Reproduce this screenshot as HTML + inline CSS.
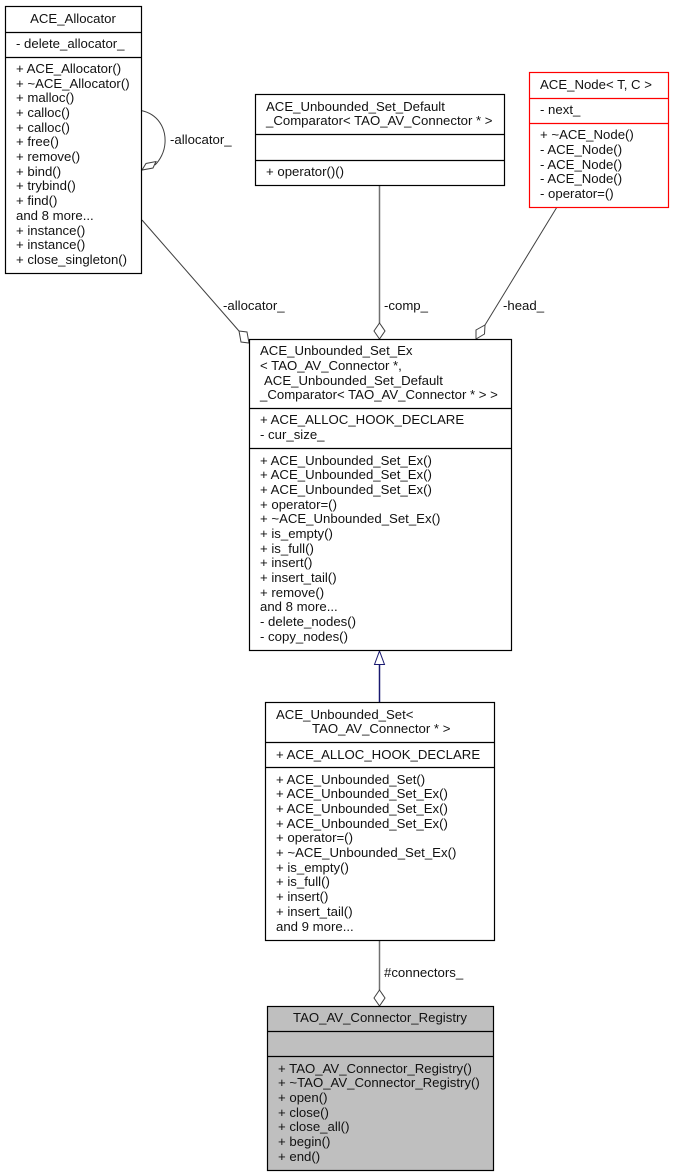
<!DOCTYPE html>
<html><head><meta charset="utf-8"><style>
html,body{margin:0;padding:0;background:#fff}
svg{display:block}
text{font-family:"Liberation Sans",sans-serif;font-size:13.2px;fill:#111}
</style></head><body>
<svg width="673" height="1176" viewBox="0 0 673 1176" xmlns="http://www.w3.org/2000/svg">
<rect width="673" height="1176" fill="#fff"/>
<!-- edges -->
<g fill="none" stroke="#404040" stroke-width="1">
<path d="M141 110.500C158 114 166 128 165 143C164.500 152 160 160 155 165"/>
<path d="M142 220L239 331"/>
<path d="M379.500 185V323" stroke-width="1.500" stroke="#707070"/>
<path d="M557 207L485 325"/>
<path d="M379.500 940V990" stroke-width="1.500" stroke="#707070"/>
<path d="M379.500 702V665" stroke="#191970" stroke-width="1.500"/>
</g>
<g fill="#fff" stroke="#404040" stroke-width="1">
<path d="M142 170L146 163.500L156 161.500L153 168L142 170Z"/>
<path d="M239 331L247 332L249 343L241 342Z"/>
<path d="M379.500 323L385 331L379.500 339L374 331Z"/>
<path d="M476 339L476 330L485 325L484.500 334Z"/>
<path d="M379.500 990L385 998L379.500 1006L374 998Z"/>
<path d="M379.500 651L384.500 664.500H374.500Z" stroke="#191970"/>
</g>
<!-- boxes -->
<g fill="#fff" stroke="#000" stroke-width="1.200">
<rect x="5.500" y="6.500" width="136" height="267"/>
<path d="M5.500 32.500H141.500M5.500 57.500H141.500"/>
<rect x="255.500" y="94.500" width="249" height="91"/>
<path d="M255.500 134.500H504.500M255.500 160.500H504.500"/>
<rect x="249.500" y="339.500" width="262" height="311"/>
<path d="M249.500 408.500H511.500M249.500 448.500H511.500"/>
<rect x="265.500" y="702.500" width="229" height="238"/>
<path d="M265.500 742.500H494.500M265.500 767.500H494.500"/>
<rect x="267.500" y="1006.500" width="226" height="164" fill="#bfbfbf"/>
<path d="M267.500 1031.500H493.500M267.500 1056.500H493.500"/>
</g>
<g fill="#fff" stroke="#ff0000" stroke-width="1.200">
<rect x="529.500" y="72.500" width="139" height="135"/>
<path d="M529.500 98.500H668.500M529.500 123.500H668.500"/>
</g>
<!-- ACE_Allocator -->
<text x="73" y="23" text-anchor="middle">ACE_Allocator</text>
<text x="16" y="48">- delete_allocator_</text>
<text x="16" y="73">+ ACE_Allocator()</text>
<text x="16" y="88">+ ~ACE_Allocator()</text>
<text x="16" y="102">+ malloc()</text>
<text x="16" y="117">+ calloc()</text>
<text x="16" y="132">+ calloc()</text>
<text x="16" y="146">+ free()</text>
<text x="16" y="161">+ remove()</text>
<text x="16" y="176">+ bind()</text>
<text x="16" y="190">+ trybind()</text>
<text x="16" y="205">+ find()</text>
<text x="16" y="220">and 8 more...</text>
<text x="16" y="235">+ instance()</text>
<text x="16" y="249">+ instance()</text>
<text x="16" y="264">+ close_singleton()</text>
<text x="170" y="144">-allocator_</text>
<text x="223" y="310">-allocator_</text>
<!-- Comparator -->
<text x="266" y="111">ACE_Unbounded_Set_Default</text>
<text x="266" y="125">_Comparator&lt; TAO_AV_Connector * &gt;</text>
<text x="266" y="176">+ operator()()</text>
<text x="384" y="310">-comp_</text>
<!-- ACE_Node -->
<text x="540" y="89">ACE_Node&lt; T, C &gt;</text>
<text x="540" y="114">- next_</text>
<text x="540" y="139">+ ~ACE_Node()</text>
<text x="540" y="154">- ACE_Node()</text>
<text x="540" y="169">- ACE_Node()</text>
<text x="540" y="183">- ACE_Node()</text>
<text x="540" y="198">- operator=()</text>
<text x="503" y="310">-head_</text>
<!-- Set_Ex -->
<text x="260" y="355">ACE_Unbounded_Set_Ex</text>
<text x="260" y="370">&lt; TAO_AV_Connector *,</text>
<text x="264" y="385">ACE_Unbounded_Set_Default</text>
<text x="260" y="399">_Comparator&lt; TAO_AV_Connector * &gt; &gt;</text>
<text x="260" y="424">+ ACE_ALLOC_HOOK_DECLARE</text>
<text x="260" y="439">- cur_size_</text>
<text x="260" y="465">+ ACE_Unbounded_Set_Ex()</text>
<text x="260" y="479">+ ACE_Unbounded_Set_Ex()</text>
<text x="260" y="494">+ ACE_Unbounded_Set_Ex()</text>
<text x="260" y="509">+ operator=()</text>
<text x="260" y="523">+ ~ACE_Unbounded_Set_Ex()</text>
<text x="260" y="538">+ is_empty()</text>
<text x="260" y="553">+ is_full()</text>
<text x="260" y="567">+ insert()</text>
<text x="260" y="582">+ insert_tail()</text>
<text x="260" y="597">+ remove()</text>
<text x="260" y="611">and 8 more...</text>
<text x="260" y="626">- delete_nodes()</text>
<text x="260" y="641">- copy_nodes()</text>
<!-- Set -->
<text x="276" y="719">ACE_Unbounded_Set&lt;</text>
<text x="312" y="733">TAO_AV_Connector * &gt;</text>
<text x="276" y="759">+ ACE_ALLOC_HOOK_DECLARE</text>
<text x="276" y="784">+ ACE_Unbounded_Set()</text>
<text x="276" y="798">+ ACE_Unbounded_Set_Ex()</text>
<text x="276" y="813">+ ACE_Unbounded_Set_Ex()</text>
<text x="276" y="828">+ ACE_Unbounded_Set_Ex()</text>
<text x="276" y="842">+ operator=()</text>
<text x="276" y="857">+ ~ACE_Unbounded_Set_Ex()</text>
<text x="276" y="872">+ is_empty()</text>
<text x="276" y="886">+ is_full()</text>
<text x="276" y="901">+ insert()</text>
<text x="276" y="916">+ insert_tail()</text>
<text x="276" y="931">and 9 more...</text>
<text x="384" y="977">#connectors_</text>
<!-- Registry -->
<text x="380" y="1022" text-anchor="middle">TAO_AV_Connector_Registry</text>
<text x="278" y="1073">+ TAO_AV_Connector_Registry()</text>
<text x="278" y="1087">+ ~TAO_AV_Connector_Registry()</text>
<text x="278" y="1102">+ open()</text>
<text x="278" y="1117">+ close()</text>
<text x="278" y="1131">+ close_all()</text>
<text x="278" y="1146">+ begin()</text>
<text x="278" y="1161">+ end()</text>
</svg>
</body></html>
